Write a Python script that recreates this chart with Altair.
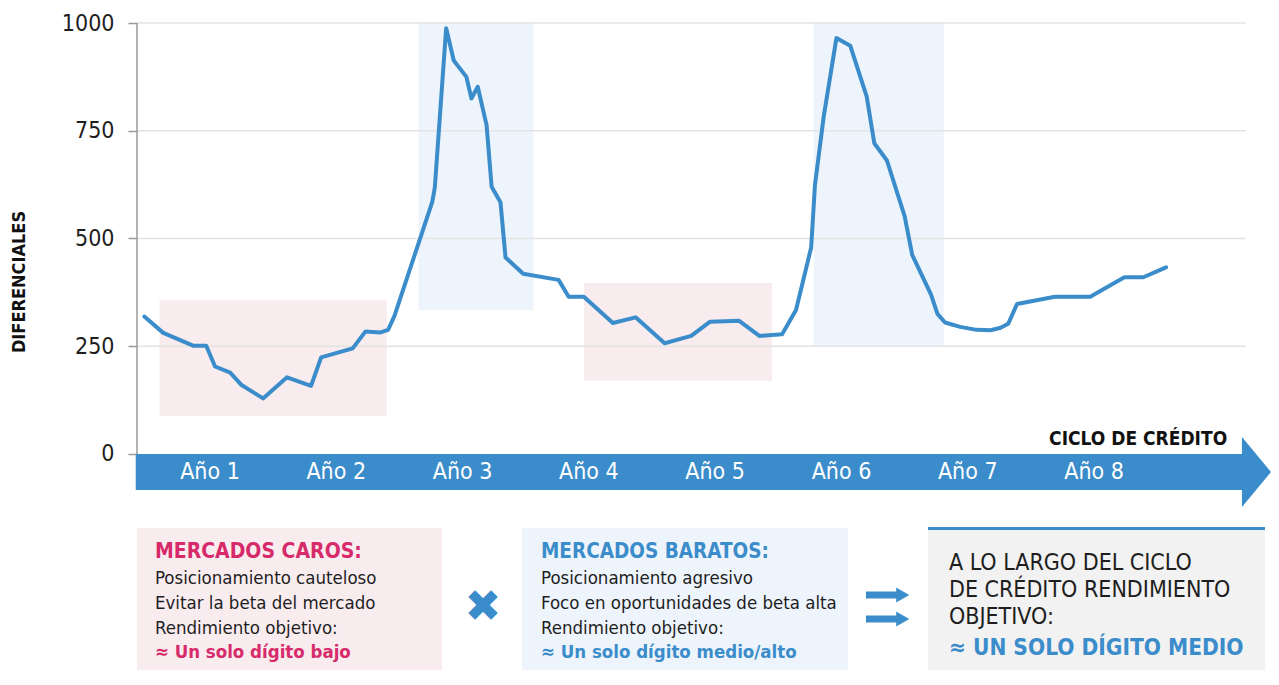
import altair as alt
import pandas as pd

# ---------------- data ----------------
# position in the credit cycle, in years (Año 1 = 0..1, Año 2 = 1..2, ...)
cycle_years = [-0.02, 0.13, 0.37, 0.47, 0.54, 0.66, 0.75, 0.92,
               1.11, 1.30, 1.38, 1.63, 1.73, 1.85, 1.91, 1.96,
               2.26, 2.28, 2.37, 2.43, 2.53, 2.57, 2.62, 2.69, 2.73, 2.80, 2.84, 2.98,
               3.26, 3.34, 3.46, 3.69, 3.87,
               4.10, 4.31, 4.46, 4.69, 4.85,
               5.03, 5.14, 5.26, 5.29, 5.36, 5.46, 5.57, 5.70, 5.76, 5.86,
               6.00, 6.06, 6.21, 6.26, 6.32, 6.44, 6.57, 6.68, 6.76, 6.82, 6.89,
               7.19, 7.47, 7.74, 7.89, 8.07]
spreads = [319, 281, 251, 251, 203, 189, 160, 129,
           178, 158, 224, 245, 284, 282, 288, 320,
           585, 618, 988, 913, 875, 825, 852, 763, 620, 584, 456, 418,
           404, 365, 365, 304, 317,
           257, 274, 307, 309, 274,
           278, 334, 479, 624, 784, 965, 947, 829, 721, 681,
           552, 462, 369, 325, 305, 295, 288, 287, 293, 302, 348,
           365, 365, 410, 410, 433]

year_labels = ["Año 1", "Año 2", "Año 3", "Año 4", "Año 5", "Año 6", "Año 7", "Año 8"]
year_centers = [0.5, 1.5, 2.5, 3.5, 4.5, 5.5, 6.5, 7.5]

y_ticks = [0, 250, 500, 750, 1000]

# shaded phases: expensive (pink) and cheap (blue) markets
phase_kind = ["caro", "barato", "caro", "barato"]
phase_start = [0.10, 2.15, 3.46, 5.28]
phase_end = [1.90, 3.06, 4.95, 6.31]
phase_low = [88, 334, 170, 249]
phase_high = [357, 1000, 397, 1000]

caros_lines = ["MERCADOS CAROS:", "Posicionamiento cauteloso", "Evitar la beta del mercado",
               "Rendimiento objetivo:", "≈ Un solo dígito bajo"]
baratos_lines = ["MERCADOS BARATOS:", "Posicionamiento agresivo", "Foco en oportunidades de beta alta",
                 "Rendimiento objetivo:", "≈ Un solo dígito medio/alto"]
total_lines = ["A LO LARGO DEL CICLO", "DE CRÉDITO RENDIMIENTO", "OBJETIVO:"]
total_result = "≈ UN SOLO DÍGITO MEDIO"

# ---------------- styling / layout ----------------
FONT = "Liberation Sans Narrow, DejaVu Sans Condensed, Roboto, sans-serif"
BLUE = "#3b8cca"
MAGENTA = "#d72a6b"
PINK_FILL = "#f8ecef"
BLUE_FILL = "#edf4fb"
GRAY_FILL = "#f2f2f2"
TXT = "#1e1e1e"

X0, X1 = -0.078, 8.901
Y0, Y1 = -501.2, 1000
xs = alt.Scale(domain=[X0, X1], nice=False, zero=False)
ys = alt.Scale(domain=[Y0, Y1], nice=False, zero=False)
y_axis = alt.Axis(values=y_ticks, format="d", grid=False, domain=False, ticks=True, tickColor="#9a9a9a",
                  tickSize=9, tickWidth=1.5, labelFont=FONT, labelFontSize=23, labelColor=TXT,
                  labelPadding=14, title=None)
fill_scale = alt.Scale(domain=["caro", "barato", "gris"], range=[PINK_FILL, BLUE_FILL, GRAY_FILL])


def X(f):
    return alt.X(f, type="quantitative", scale=xs, axis=None)


def Y(f):
    return alt.Y(f, type="quantitative", scale=ys, axis=y_axis)


# annotation anchors in chart units (years, spread)
GRID_END = 8.703
BAND_END = 8.671
BAND_BOTTOM = -83.5
HEAD_TOP, HEAD_BOT, HEAD_MID = 39.4, -123.0, -41.8
BOX_TOP = -171.7
LINE_V = [-227.4, -287.7, -345.7, -403.7, -459.4]
GRAY_V = [-252.9, -315.5, -378.2, -450.1]

# ---------------- layers ----------------
phases = pd.DataFrame({"kind": phase_kind, "t0": phase_start, "t1": phase_end,
                       "v0": phase_low, "v1": phase_high})
phase_layer = alt.Chart(phases).mark_rect().encode(
    x=X("t0"), x2="t1", y=Y("v0"), y2="v1",
    color=alt.Color("kind:N", scale=fill_scale, legend=None),
)

grid = pd.DataFrame({"v": y_ticks[1:], "t0": [X0] * 4, "t1": [GRID_END] * 4})
grid_layer = alt.Chart(grid).mark_rule(color="#e3e3e3", strokeWidth=1.5).encode(
    x=X("t0"), x2="t1", y=Y("v"))

axis_line = alt.Chart(pd.DataFrame({"t": [X0], "v0": [0], "v1": [1000]})).mark_rule(
    color="#9a9a9a", strokeWidth=1.5).encode(x=X("t"), y=Y("v0"), y2="v1")

band = alt.Chart(pd.DataFrame({"t0": [X0 - 0.01], "t1": [BAND_END + 0.01], "v0": [0], "v1": [BAND_BOTTOM]})
                 ).mark_rect(color=BLUE).encode(x=X("t0"), x2="t1", y=Y("v0"), y2="v1")
head = alt.Chart(pd.DataFrame({"t": [BAND_END, X1], "top": [HEAD_TOP, HEAD_MID], "bot": [HEAD_BOT, HEAD_MID]})
                 ).mark_area(color=BLUE, opacity=1).encode(x=X("t"), y=Y("top"), y2="bot")

years = pd.DataFrame({"t": year_centers, "v": [HEAD_MID] * 8, "label": year_labels})
year_layer = alt.Chart(years).mark_text(font=FONT, fontSize=23, color="white", baseline="middle",
                                        align="center").encode(x=X("t"), y=Y("v"), text="label")

ciclo = alt.Chart(pd.DataFrame({"t": [8.554], "v": [35], "label": ["CICLO DE CRÉDITO"]})).mark_text(
    font=FONT, fontSize=19, fontWeight="bold", color="#111", align="right", baseline="middle"
).encode(x=X("t"), y=Y("v"), text="label")

series = pd.DataFrame({"t": cycle_years, "v": spreads})
line_layer = alt.Chart(series).mark_line(color=BLUE, strokeWidth=4, strokeCap="round",
                                         strokeJoin="round").encode(x=X("t"), y=Y("v"))

ytitle = alt.Chart(pd.DataFrame({"t": [-1.004], "v": [399], "label": ["DIFERENCIALES"]})).mark_text(
    font=FONT, fontSize=18, fontWeight="bold", color="#111", angle=270, align="center", baseline="middle"
).encode(x=X("t"), y=Y("v"), text="label")

boxes = pd.DataFrame({"kind": ["caro", "barato", "gris"], "t0": [X0, 2.970, 6.185],
                      "t1": [2.337, 5.551, 8.853], "v0": [BOX_TOP, BOX_TOP, -176.3], "v1": [Y0] * 3})
box_layer = alt.Chart(boxes).mark_rect().encode(
    x=X("t0"), x2="t1", y=Y("v0"), y2="v1",
    color=alt.Color("kind:N", scale=fill_scale, legend=None),
)
gray_top = alt.Chart(pd.DataFrame({"t0": [6.185], "t1": [8.853], "v": [-172.9]})).mark_rule(
    color=BLUE, strokeWidth=3).encode(x=X("t0"), x2="t1", y=Y("v"))


def text_layer(ts, vs, labels, size, weight, color):
    df = pd.DataFrame({"t": ts, "v": vs, "label": labels})
    return alt.Chart(df).mark_text(font=FONT, fontSize=size, fontWeight=weight, color=color,
                                   align="left", baseline="middle").encode(x=X("t"), y=Y("v"), text="label")


T_CARO, T_BARATO, T_GRIS = 0.064, 3.121, 6.351
txt_layers = [
    text_layer([T_CARO], [LINE_V[0]], caros_lines[:1], 21, "bold", MAGENTA),
    text_layer([T_CARO] * 3, LINE_V[1:4], caros_lines[1:4], 18.5, "normal", TXT),
    text_layer([T_CARO], [LINE_V[4]], caros_lines[4:], 18.5, "bold", MAGENTA),
    text_layer([T_BARATO], [LINE_V[0]], baratos_lines[:1], 20.5, "bold", BLUE),
    text_layer([T_BARATO] * 3, LINE_V[1:4], baratos_lines[1:4], 18.5, "normal", TXT),
    text_layer([T_BARATO], [LINE_V[4]], baratos_lines[4:], 18.5, "bold", BLUE),
    text_layer([T_GRIS] * 3, GRAY_V[:3], total_lines, 23, "normal", TXT),
    text_layer([T_GRIS], [GRAY_V[3]], [total_result], 22.5, "bold", BLUE),
]

cross = alt.Chart(pd.DataFrame({"t": [2.662], "v": [-357.3], "label": ["✖"]})).mark_text(
    font="DejaVu Sans", fontSize=44, color=BLUE, align="center", baseline="middle"
).encode(x=X("t"), y=Y("v"), text="label")

arrows = pd.DataFrame({"t0": [5.694, 5.694], "t1": [5.960, 5.960], "v": [-327.1, -382.8]})
arrow_shafts = alt.Chart(arrows).mark_rule(color=BLUE, strokeWidth=7).encode(
    x=X("t0"), x2="t1", y=Y("v"))
arrow_heads = alt.Chart(pd.DataFrame({"t": [5.985, 5.985], "v": [-327.1, -382.8]})).mark_point(
    shape="triangle-right", filled=True, color=BLUE, opacity=1, size=230).encode(x=X("t"), y=Y("v"))

chart = alt.layer(
    phase_layer, grid_layer, band, head, year_layer, ciclo, line_layer, axis_line, ytitle,
    box_layer, gray_top, *txt_layers, cross, arrow_shafts, arrow_heads,
).properties(
    width=1134, height=647,
    autosize=alt.AutoSizeParams(type="none"),
    padding={"left": 129, "top": 15, "right": 0, "bottom": 0},
    background="white",
).configure_view(strokeWidth=0)

chart.save("out.html", embed_options={"renderer": "svg", "actions": False})
